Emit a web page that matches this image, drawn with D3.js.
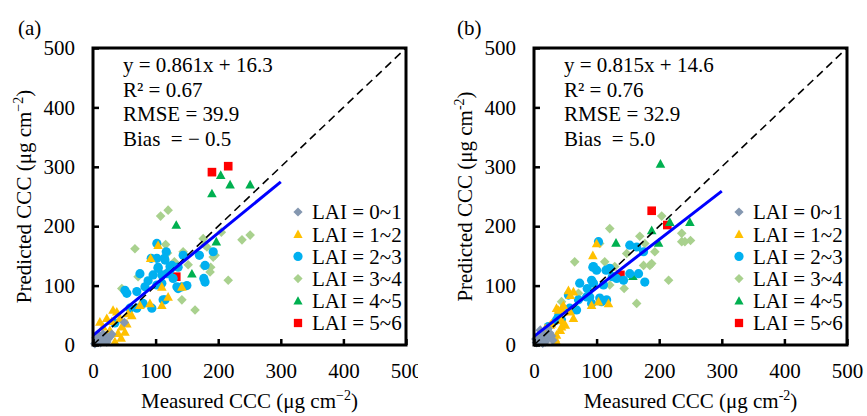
<!DOCTYPE html>
<html>
<head>
<meta charset="utf-8">
<script src="https://cdn.jsdelivr.net/npm/d3@7"></script>
<style>
  body { margin: 0; background: #fff; }
  svg { display: block; }
  text { white-space: pre; font-family: "Liberation Serif", "DejaVu Serif", serif; }
</style>
</head>
<body>
<svg id="chart" width="867" height="416"></svg>
<script>
// ---- data (CCC, ug cm-2) ----
const seriesLabels = ["LAI = 0~1", "LAI = 1~2", "LAI = 2~3", "LAI = 3~4", "LAI = 4~5", "LAI = 5~6"];
const xTicks = [0, 100, 200, 300, 400, 500];
const yTicks = [0, 100, 200, 300, 400, 500];

// panel (a)
const a01 = [[3,2],[6,5],[9,10],[12,4],[14,12],[18,8],[20,15],[24,10],[10,16],[16,18],[27,14],[22,5],[5,12],[30,18],[50,38]];
const a12 = [[104,168],[92,146],[32,59],[38,56],[43,45],[46,31],[40,20],[35,6],[27,25],[62,50],[54,36],[51,22],[56,53],[16,31],[110,98],[110,67],[91,70],[75,67],[142,98],[120,81],[11,39],[22,45],[30,40],[45,12]];
const a23 = [[102,171],[117,157],[114,146],[93,146],[75,120],[96,118],[123,132],[144,151],[170,151],[192,157],[179,134],[177,112],[54,87],[70,90],[80,70],[94,62],[112,76],[102,101],[83,98],[134,98],[142,98],[179,106],[118,120],[110,118],[51,92],[115,76],[70,62],[104,129],[123,126],[128,112],[136,95],[110,104],[59,62],[35,37],[102,146],[115,143],[104,131],[126,134],[136,131],[88,108],[150,100]];
const a34 = [[67,162],[108,217],[120,227],[176,179],[238,177],[251,185],[116,169],[182,165],[195,151],[177,133],[188,131],[216,109],[144,157],[142,76],[163,59],[46,95],[72,115],[187,123],[119,155],[147,151],[205,190],[179,168],[192,148],[152,135],[130,140]];
const a45 = [[204,286],[219,270],[251,270],[190,255],[133,202],[197,174],[158,120]];
const a56 = [[190,291],[216,301],[133,115]];
const statsA = ["y = 0.861x + 16.3", "R\u00B2 = 0.67", "RMSE = 39.9", "Bias  = \u2212 0.5"];
const fitA = [0.861, 16.3];

// panel (b)
const b01 = [[4,4],[8,12],[12,7],[15,18],[20,12],[25,20],[18,5],[28,15],[10,25],[3,10],[22,28],[14,3],[30,8]];
const b12 = [[94,151],[100,171],[34,11],[39,59],[47,67],[58,84],[63,45],[50,34],[42,25],[44,42],[26,34],[18,28],[63,90],[92,67],[119,70],[103,73],[36,62],[55,92],[58,56],[44,31],[36,17],[36,6],[28,36],[44,62]];
const b23 = [[103,174],[95,132],[115,126],[153,168],[164,165],[175,157],[167,120],[95,104],[111,101],[132,112],[143,109],[177,106],[73,104],[55,84],[71,76],[89,81],[108,73],[116,76],[92,70],[68,59],[39,48],[36,42],[23,31],[153,120],[92,109],[100,126],[94,131],[121,129],[84,81],[105,79],[57,62],[44,42],[125,115],[85,95]];
const b34 = [[65,140],[121,196],[105,171],[148,154],[169,183],[177,171],[204,217],[236,188],[250,176],[236,174],[215,109],[185,134],[193,157],[113,140],[129,132],[164,70],[144,95],[44,73],[71,87],[121,101],[188,137],[241,174],[175,134]];
const b45 = [[202,305],[188,193],[249,207],[217,207],[131,172],[199,172],[158,116]];
const b56 = [[188,226],[213,202],[138,118]];
const statsB = ["y = 0.815x + 14.6", "R\u00B2 = 0.76", "RMSE = 32.9", "Bias  = 5.0"];
const fitB = [0.815, 14.6];

// ---- styles ----
const colors = ["#8497B0", "#FFC000", "#00B0F0", "#A9D18E", "#00B050", "#FF0000"];
const shapes = ["diamond", "triangle", "circle", "diamond", "triangle", "square"];
const serif = "'Liberation Serif', 'DejaVu Serif', serif";

function markerPath(shape, r) {
  if (shape === "diamond") return `M0,${-r}L${r},0L0,${r}L${-r},0Z`;
  if (shape === "triangle") return `M0,${-r}L${r},${r * 0.8}L${-r},${r * 0.8}Z`;
  if (shape === "square") return `M${-r * 0.9},${-r * 0.9}h${r * 1.8}v${r * 1.8}h${-r * 1.8}Z`;
  return d3.symbol(d3.symbolCircle, Math.PI * r * r)();
}

const svg = d3.select("#chart");
const font = 21;

function drawPanel({ left, right, top, bottom, label, labelX, series, stats, fit, minus, clipRight }) {
  const g = svg.append("g").attr("font-family", serif);
  if (clipRight) {
    svg.append("clipPath").attr("id", "clip" + label)
      .append("rect").attr("x", 0).attr("y", 0).attr("width", clipRight).attr("height", 416);
    g.attr("clip-path", `url(#clip${label})`);
  }

  const x = d3.scaleLinear().domain([0, 500]).range([left, right]);
  const y = d3.scaleLinear().domain([0, 500]).range([bottom, top]);

  // panel label
  g.append("text").attr("x", labelX).attr("y", 35).attr("font-size", font).text(`(${label})`);

  // points, last series first so the low-LAI marks end on top
  series.map((pts, i) => i).reverse().forEach(i => {
    g.append("g").selectAll("path")
      .data(series[i])
      .enter()
      .append("path")
      .attr("transform", d => `translate(${x(d[0])},${y(d[1])})`)
      .attr("d", markerPath(shapes[i], i === 2 ? 4.6 : 4.8))
      .attr("fill", colors[i]);
  });

  // 1:1 line
  g.append("line")
    .attr("x1", x(0)).attr("y1", y(0)).attr("x2", x(500)).attr("y2", y(500))
    .attr("stroke", "#000").attr("stroke-width", 1.6).attr("stroke-dasharray", "8,5");

  // fitted line
  g.append("line")
    .attr("x1", x(0)).attr("y1", y(fit[1]))
    .attr("x2", x(300)).attr("y2", y(fit[0] * 300 + fit[1]))
    .attr("stroke", "#0000FF").attr("stroke-width", 3);

  // axes with inward ticks
  const xAxis = g.append("g").attr("transform", `translate(0,${bottom})`)
    .call(d3.axisBottom(x).tickValues(xTicks).tickSize(-6).tickPadding(18));
  const yAxis = g.append("g").attr("transform", `translate(${left},0)`)
    .call(d3.axisLeft(y).tickValues(yTicks).tickSize(-6).tickPadding(18));
  [xAxis, yAxis].forEach(ax => {
    ax.attr("font-family", serif).attr("font-size", font);
    ax.select(".domain").remove();
    ax.selectAll("line").attr("stroke", "#000").attr("stroke-width", 2.5);
    ax.selectAll("text").attr("fill", "#000");
  });

  // frame
  g.append("rect")
    .attr("x", left).attr("y", top).attr("width", right - left).attr("height", bottom - top)
    .attr("fill", "none").attr("stroke", "#000").attr("stroke-width", 3);

  // statistics
  g.selectAll(".stat")
    .data(stats)
    .enter()
    .append("text")
    .attr("class", "stat")
    .attr("x", left + 30)
    .attr("y", (d, i) => 72 + i * 24.5)
    .attr("font-size", font)
    .text(d => d);

  // legend
  const lg = g.append("g").attr("transform", `translate(${left + 205},212)`);
  seriesLabels.forEach((s, i) => {
    lg.append("path")
      .attr("transform", `translate(0,${i * 22.2})`)
      .attr("d", markerPath(shapes[i], 4.6))
      .attr("fill", colors[i]);
    lg.append("text")
      .attr("x", 14).attr("y", i * 22.2).attr("dy", "0.35em")
      .attr("font-size", font)
      .text(s);
  });

  // axis titles
  const sup = minus ? "\u22122" : "-2";
  const xt = g.append("text")
    .attr("x", (left + right) / 2).attr("y", 408)
    .attr("text-anchor", "middle").attr("font-size", font);
  xt.append("tspan").text("Measured CCC (\u03BCg cm");
  xt.append("tspan").attr("dy", -8).attr("font-size", 14).text(sup);
  xt.append("tspan").attr("dy", 8).text(")");

  const yt = g.append("text")
    .attr("transform", `translate(${left - 62},${(top + bottom) / 2}) rotate(-90)`)
    .attr("text-anchor", "middle").attr("font-size", font);
  yt.append("tspan").text("Predicted CCC (\u03BCg cm");
  yt.append("tspan").attr("dy", -8).attr("font-size", 14).text(sup);
  yt.append("tspan").attr("dy", 8).text(")");
}

drawPanel({
  left: 93, right: 406, top: 48, bottom: 345, label: "a", labelX: 18,
  series: [a01, a12, a23, a34, a45, a56], stats: statsA, fit: fitA, minus: true, clipRight: 418
});
drawPanel({
  left: 534, right: 847, top: 48, bottom: 345, label: "b", labelX: 457,
  series: [b01, b12, b23, b34, b45, b56], stats: statsB, fit: fitB, minus: false
});
</script>
</body>
</html>
